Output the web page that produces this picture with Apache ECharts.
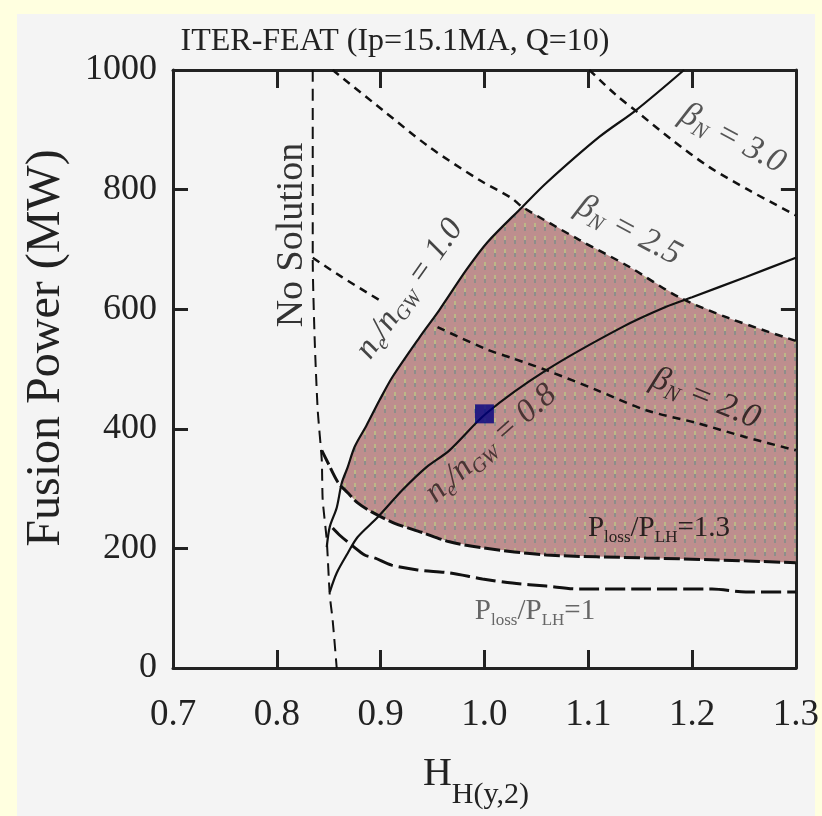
<!DOCTYPE html>
<html>
<head>
<meta charset="utf-8">
<script src="https://cdn.jsdelivr.net/npm/echarts@6/dist/echarts.min.js"></script>
<style>html,body{margin:0;padding:0;background:#F4F4F4;}#c{width:822px;height:816px;}</style>
</head>
<body>
<div id="c"></div>
<script>
// ---- data (x = H_H(y,2), y = Fusion Power MW) ----
const xTickLabels = ['0.7','0.8','0.9','1.0','1.1','1.2','1.3'];
const yTickLabels = ['0','200','400','600','800','1000'];

const noSolution = [[0.8346,1000],[0.8346,682],[0.8365,548],[0.8394,431],[0.8433,348],[0.8442,281],[0.8481,214],[0.8510,122],[0.8538,80],[0.8577,0]];
const neGW10 = [[1.1923,1000],[1.1462,933],[1.1106,888],[1.0596,811],[1.0365,771],[1.0029,712],[0.9827,666],[0.9567,599],[0.9375,553],[0.9115,487],[0.8990,448],[0.8865,406],[0.8750,370],[0.8683,336],[0.8625,309],[0.8577,268],[0.8510,236],[0.8481,202]];
const neGW08 = [[0.8510,127],[0.8577,159],[0.8683,192],[0.8779,219],[0.8971,252],[0.9212,298],[0.9442,336],[0.9663,364],[1.0019,426],[1.0596,498],[1.1327,570],[1.1750,604],[1.2000,620],[1.2519,654],[1.3000,686]];
const betaN20 = [[0.8346,686],[0.8625,654],[0.8990,615],null,[0.9548,570],[1.0019,533],[1.0269,518],[1.0596,498],[1.1077,465],[1.1558,431],[1.2038,410],[1.2519,386],[1.3000,364]];
const betaN25 = [[0.8538,1000],[0.9019,933],[0.9471,871],[0.9952,816],[1.0260,786],[1.0365,771],[1.0913,716],[1.1394,671],[1.1875,620],[1.2356,585],[1.3000,547]];
const betaN30 = [[1.1010,1000],[1.1269,958],[1.1471,930],[1.1808,883],[1.2163,838],[1.2548,799],[1.3000,757]];
const ploss13 = [[0.8433,364],[0.8490,344],[0.8587,311],[0.8683,293],[0.8779,276],[0.8913,261],[0.9135,242],[0.9394,227],[0.9663,211],[0.9981,201],[1.0596,189],[1.1558,184],[1.2192,181],[1.3000,176]];
const ploss10 = [[0.8538,234],[0.8606,222],[0.8731,204],[0.8846,189],[0.8942,184],[0.9106,172],[0.9356,164],[0.9663,159],[0.9981,149],[1.0269,142],[1.0596,137],[1.0913,132],[1.1558,132],[1.2192,132],[1.2519,127],[1.3000,127]];
const designPoint = [[1.0,425]];

// shaded operating window: left = ne/nGW=1.0, bottom = Ploss/PLH=1.3, top = betaN=2.5
const peakX = 1.0365, cornerX = 0.8625;
const regionPoly = []
  .concat(neGW10.filter(p => p[0] <= peakX && p[0] >= cornerX))
  .concat(ploss13.filter(p => p[0] > cornerX + 0.003))
  .concat(betaN25.filter(p => p[0] > peakX).reverse());

// ---- pattern for the shaded area ----
function makePattern(){
  const c = document.createElement('canvas');
  c.width = 10; c.height = 13;
  const g = c.getContext('2d');
  g.fillStyle = '#BE8E8E'; g.fillRect(0,0,10,13);
  g.fillStyle = '#BDB787'; g.fillRect(4,2,2,4);
  g.fillStyle = '#8E8E8A'; g.fillRect(4,6,2,4);
  return c;
}
const pattern = {image: makePattern(), repeat: 'repeat'};

const serif = 'Liberation Serif';
const ink = '#222';

function lineSeries(name, data, dash, width, smooth){
  return {
    name, type: 'line', data, symbol: 'none', showSymbol: false, z: 3,
    smooth: smooth, connectNulls: false, silent: true,
    lineStyle: {color: '#111', width: width, type: dash}
  };
}

const chart = echarts.init(document.getElementById('c'), null, {renderer: 'canvas'});

const axisCommonX = {
  type: 'value', min: 0.7, max: 1.3, interval: 0.1,
  axisLine: {show: true, onZero: false, lineStyle: {color: ink, width: 3}},
  axisTick: {show: true, inside: true, length: 18, lineStyle: {color: ink, width: 3}},
  splitLine: {show: false}
};
const axisCommonY = {
  type: 'value', min: 0, max: 1000, interval: 200,
  axisLine: {show: true, onZero: false, lineStyle: {color: ink, width: 3}},
  axisTick: {show: true, inside: true, length: 15, lineStyle: {color: ink, width: 3}},
  splitLine: {show: false}
};

const txt = (text, x, y, rot, font, color, rich) => ({
  type: 'text', x, y, rotation: rot || 0, z: 10, silent: true,
  style: {text, x: 0, y: 0, align: 'center', verticalAlign: 'middle', font, fill: color || ink, rich: rich}
});

const labRich = (size, sub, color, italic) => ({
  m: {fontSize: size, fontFamily: serif, fontStyle: italic ? 'italic' : 'normal', color, lineHeight: size, verticalAlign: 'top'},
  s: {fontSize: sub, fontFamily: serif, fontStyle: italic ? 'italic' : 'normal', color, lineHeight: Math.round(size + sub*0.15), verticalAlign: 'bottom'}
});

chart.setOption({
  animation: false,
  backgroundColor: '#F4F4F4',
  grid: {left: 173, right: 25, top: 70, bottom: 148, containLabel: false},
  xAxis: [
    Object.assign({}, axisCommonX, {position: 'bottom',
      axisLabel: {show: true, fontFamily: serif, fontSize: 37, color: ink, margin: 29,
        formatter: v => xTickLabels[Math.round((v - 0.7) / 0.1)]}}),
    Object.assign({}, axisCommonX, {position: 'top', axisLabel: {show: false}})
  ],
  yAxis: [
    Object.assign({}, axisCommonY, {position: 'left',
      axisLabel: {show: true, fontFamily: serif, fontSize: 36, color: ink, margin: 16,
        formatter: v => yTickLabels[Math.round(v / 200)]}}),
    Object.assign({}, axisCommonY, {position: 'right', axisLabel: {show: false}})
  ],
  graphic: [
    {type: 'rect', shape: {x: 0, y: 0, width: 17, height: 816}, style: {fill: '#FFFFE0'}, silent: true},
    {type: 'rect', shape: {x: 0, y: 0, width: 822, height: 14}, style: {fill: '#FFFFE0'}, silent: true},
    {type: 'rect', shape: {x: 815, y: 0, width: 7, height: 816}, style: {fill: '#FFFFE0'}, silent: true},
    txt('ITER-FEAT (Ip=15.1MA, Q=10)', 395, 42, 0, '32px ' + serif, ink),
    txt('Fusion Power (MW)', 46, 348, Math.PI/2, '48px ' + serif, ink),
    txt('{m|H}{s|H(y,2)}', 476, 782, 0, '', ink, {
      m: {fontSize: 40, fontFamily: serif, color: ink, lineHeight: 40, verticalAlign: 'top'},
      s: {fontSize: 30, fontFamily: serif, color: ink, lineHeight: 56, verticalAlign: 'bottom'}
    }),
    txt('No Solution', 292, 235, Math.PI/2, '38px ' + serif, '#333'),
    txt('{m|n}{s|e}{m|/n}{s|GW}{m| = 1.0}', 411, 290, 55*Math.PI/180, '', '#444', labRich(33, 20, '#444', true)),
    txt('{m|n}{s|e}{m|/n}{s|GW}{m| = 0.8}', 492, 445, 41*Math.PI/180, '', '#4a3434', labRich(33, 20, '#4a3434', true)),
    txt('{m|β}{s|N}{m| = 3.0}', 732, 140, -28*Math.PI/180, '', '#555', labRich(34, 22, '#555', true)),
    txt('{m|β}{s|N}{m| = 2.5}', 628, 232, -28*Math.PI/180, '', '#555', labRich(34, 22, '#555', true)),
    txt('{m|β}{s|N}{m| = 2.0}', 705, 400, -22*Math.PI/180, '', '#3a2a2a', labRich(34, 22, '#3a2a2a', true)),
    txt('{m|P}{s|loss}{m|/P}{s|LH}{m|=1.3}', 659, 530, 0, '', '#2a2020', labRich(29, 17, '#2a2020', false)),
    txt('{m|P}{s|loss}{m|/P}{s|LH}{m|=1}', 535, 613, 0, '', '#666', labRich(29, 17, '#666', false))
  ],
  series: [
    {
      type: 'custom', z: 1, silent: true, data: [0],
      renderItem: (params, api) => ({
        type: 'polygon',
        shape: {points: regionPoly.map(p => api.coord(p))},
        style: {fill: pattern, stroke: null}
      })
    },
    lineSeries('noSolution', noSolution, [12, 7], 2, 0.2),
    lineSeries('neGW10', neGW10, 'solid', 2.2, 0.3),
    lineSeries('neGW08', neGW08, 'solid', 2.2, 0.3),
    lineSeries('betaN20', betaN20, [8, 6], 2.5, 0.3),
    lineSeries('betaN25', betaN25, [8, 6], 2.5, 0.3),
    lineSeries('betaN30', betaN30, [8, 6], 2.5, 0.3),
    lineSeries('ploss13', ploss13, [16, 4], 3, 0.3),
    lineSeries('ploss10', ploss10, [20, 6], 3, 0.3),
    {
      type: 'scatter', data: designPoint, symbol: 'rect', symbolSize: 19, z: 5, silent: true,
      itemStyle: {color: '#000080'}
    }
  ]
});
</script>
</body>
</html>
